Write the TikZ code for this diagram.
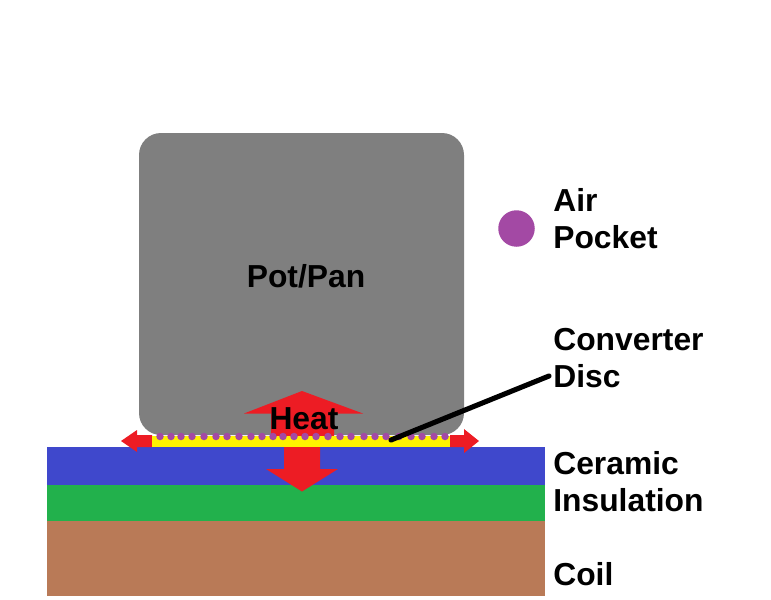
\documentclass[tikz,border=0pt]{standalone}
\usepackage{fontspec}
\setmainfont{Liberation Sans}
\usetikzlibrary{positioning,calc}
\definecolor{pangray}{HTML}{7F7F7F}
\definecolor{heatred}{HTML}{ED1C24}
\definecolor{discyellow}{HTML}{FFF200}
\definecolor{ceramicblue}{HTML}{3F48CC}
\definecolor{insulgreen}{HTML}{22B14C}
\definecolor{coilbrown}{HTML}{B97A57}
\definecolor{airpurple}{HTML}{A349A4}

\begin{document}
\begin{tikzpicture}[
  x=0.02cm, y=-0.02cm,
  lbl/.style={font=\fontsize{18.1}{21}\selectfont\bfseries, inner sep=0pt, text=black},
  sidelbl/.style={lbl, anchor=west, align=left},
  heatarrow/.style={fill=heatred, draw=none},
  airdot/.style={circle, fill=airpurple, draw=none, inner sep=0pt, minimum size=0.15cm},
  leader/.style={draw=black, line width=2.9pt, line cap=round}
]
\useasboundingbox (0,0) rectangle (771,599);

% stack under the pan
\fill[ceramicblue] (47,447) rectangle (545,485);
\fill[insulgreen] (47,485) rectangle (545,521);
\fill[coilbrown] (47,521) rectangle (545,596);

% pan
\fill[pangray, rounded corners=0.44cm] (139,133) rectangle (464,435);

% heat arrows
\fill[heatarrow] (271,436) -- (271,413.5) -- (244,413.5) -- (302,391) -- (363,413.5) -- (334,413.5) -- (334,436) -- cycle;
\fill[heatarrow] (284,447) -- (284,469) -- (266,469) -- (302,491.5) -- (338,469) -- (320,469) -- (320,447) -- cycle;
\fill[heatarrow] (152,435) -- (137,435) -- (137,430) -- (121,441) -- (137,452) -- (137,447) -- (152,447) -- cycle;
\fill[heatarrow] (450,435) -- (464,435) -- (464,429) -- (479,441) -- (464,453) -- (464,447) -- (450,447) -- cycle;

% converter disc
\fill[discyellow] (152,436) rectangle (450,447);
\foreach \px in {160,171,181,192,204,216,227,239,251,262,273,283,294,305,316,328,340,351,364,375,386,399,411,422,434,445}
  \node[airdot] (dot\px) at (\px,436.5) {};

% labels
\node[lbl] (panlbl) at (306,276) {Pot/Pan};
\node[lbl] (heatlbl) at (304,419) {Heat};
\node[circle, fill=airpurple, inner sep=0pt, minimum size=0.73cm] (airkey) at (516.5,228.5) {};
\node[sidelbl] (airlbl) at (553,219) {Air\\Pocket};
\node[sidelbl] (disclbl) at (553,358) {Converter\\Disc};
\node[sidelbl] (insullbl) at (553,482) {Ceramic\\Insulation};
\node[sidelbl] (coillbl) at (553,574) {Coil};

\coordinate (disctip) at (391,440);
\coordinate (discfrom) at (549,376);
\draw[leader] (discfrom) -- (disctip);

\end{tikzpicture}
\end{document}
